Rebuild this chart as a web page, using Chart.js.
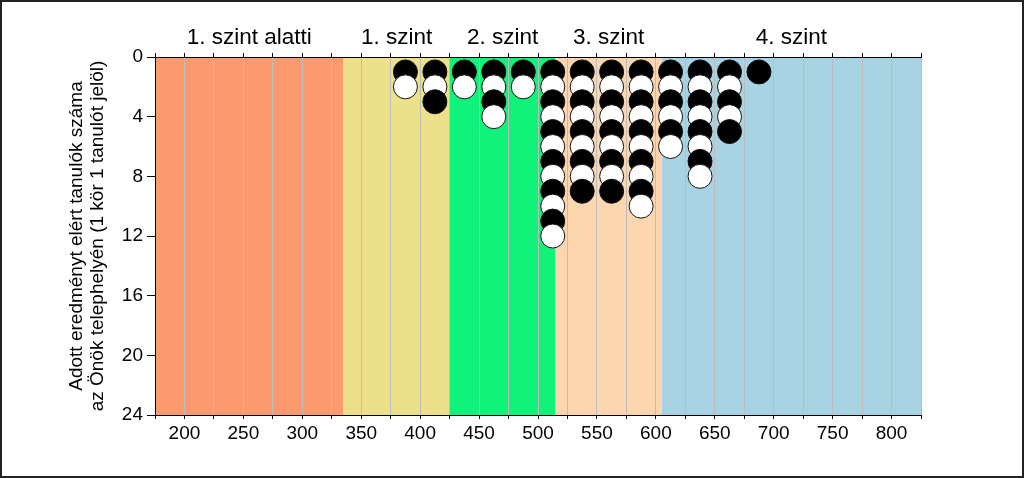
<!DOCTYPE html>
<html>
<head>
<meta charset="utf-8">
<script src="https://cdn.jsdelivr.net/npm/chart.js@4"></script>
<style>
  html, body { margin: 0; padding: 0; background: #fff; }
  canvas { display: block; }
</style>
</head>
<body>
<canvas id="myChart" width="1024" height="478"></canvas>
<script>
// score bins (column centres) and how many students fall in each
const scoreBins = [387.5, 412.5, 437.5, 462.5, 487.5, 512.5, 537.5, 562.5, 587.5, 612.5, 637.5, 662.5, 687.5];
const studentCounts = [2, 3, 2, 4, 2, 12, 9, 9, 10, 6, 8, 5, 1];

// proficiency levels
const levelNames = ["1. szint alatti", "1. szint", "2. szint", "3. szint", "4. szint"];
const levelBounds = [175, 335, 425, 515, 605, 825];
const levelColors = ["#fb9a6e", "#ece18a", "#10f27a", "#fdd6b0", "#a8d3e3"];

const xMin = 175, xMax = 825;
const yMax = 24;
const yTitle = ["Adott eredményt elért tanulók száma", "az Önök telephelyén (1 kör 1 tanulót jelöl)"];

const FONT = "'Liberation Sans', Arial, sans-serif";

// one point per student, stacked down each column
const points = [];
const fills = [];
scoreBins.forEach((x, i) => {
  for (let k = 1; k <= studentCounts[i]; k++) {
    points.push({ x: x, y: k });
    fills.push(k % 2 === 1 ? "#000000" : "#ffffff");
  }
});

const bandsPlugin = {
  id: "bands",
  beforeDraw(chart) {
    const { ctx, chartArea } = chart;
    const xs = chart.scales.x;
    ctx.save();
    ctx.fillStyle = "#fff";
    ctx.fillRect(0, 0, chart.width, chart.height);
    for (let i = 0; i < levelNames.length; i++) {
      const x0 = xs.getPixelForValue(levelBounds[i]);
      const x1 = xs.getPixelForValue(levelBounds[i + 1]);
      ctx.fillStyle = levelColors[i];
      ctx.fillRect(x0, chartArea.top, x1 - x0, chartArea.bottom - chartArea.top);
    }
    ctx.restore();
  },
  afterDraw(chart) {
    const { ctx, chartArea } = chart;
    const xs = chart.scales.x;
    ctx.save();
    // level names above the plot
    ctx.fillStyle = "#000";
    ctx.font = "22.5px " + FONT;
    ctx.textAlign = "center";
    ctx.textBaseline = "middle";
    for (let i = 0; i < levelNames.length; i++) {
      const cx = xs.getPixelForValue((levelBounds[i] + levelBounds[i + 1]) / 2);
      ctx.fillText(levelNames[i], cx, 38);
    }
    // y axis title, two lines
    ctx.font = "19px " + FONT;
    const cy = (chartArea.top + chartArea.bottom) / 2;
    ctx.translate(77, cy);
    ctx.rotate(-Math.PI / 2);
    ctx.fillText(yTitle[0], 0, 0);
    ctx.fillText(yTitle[1], 0, 21);
    ctx.restore();
    // outer frame
    ctx.save();
    ctx.strokeStyle = "#222";
    ctx.lineWidth = 2;
    ctx.strokeRect(1, 1, chart.width - 2, chart.height - 2);
    ctx.restore();
  }
};

const ctx = document.getElementById("myChart").getContext("2d");
const myChart = new Chart(ctx, {
  type: "scatter",
  data: {
    datasets: [{
      data: points,
      pointRadius: 12,
      pointHoverRadius: 12,
      pointBackgroundColor: fills,
      pointBorderColor: "#111",
      pointBorderWidth: 1,
      clip: false
    }]
  },
  options: {
    responsive: false,
    animation: false,
    events: [],
    layout: { padding: { top: 0, right: 103, left: 0, bottom: 0 } },
    plugins: {
      legend: { display: false },
      tooltip: { enabled: false }
    },
    scales: {
      x: {
        type: "linear",
        position: "bottom",
        min: xMin,
        max: xMax,
        afterFit(scale) { scale.height = 63; },
        ticks: {
          stepSize: 25,
          autoSkip: false,
          maxRotation: 0,
          padding: 3,
          color: "#000",
          font: { family: FONT, size: 19 },
          callback: v => (v % 50 === 0 ? v : "")
        },
        grid: {
          color: "#bdbdbd",
          lineWidth: 1,
          tickColor: "#000",
          tickLength: 4
        },
        border: { display: true, color: "#000", width: 1 }
      },
      xTop: {
        type: "linear",
        position: "top",
        min: xMin,
        max: xMax,
        afterFit(scale) { scale.height = 57; },
        ticks: { stepSize: 25, display: false },
        grid: {
          drawOnChartArea: false,
          tickColor: "#000",
          tickLength: 4
        },
        border: { display: true, color: "#000", width: 1 }
      },
      y: {
        type: "linear",
        reverse: true,
        min: 0,
        max: yMax,
        afterFit(scale) { scale.width = 155; },
        ticks: {
          stepSize: 4,
          padding: 4,
          color: "#000",
          font: { family: FONT, size: 19 }
        },
        grid: {
          drawOnChartArea: false,
          tickColor: "#000",
          tickLength: 8
        },
        border: { display: true, color: "#000", width: 1 }
      }
    }
  },
  plugins: [bandsPlugin]
});
</script>
</body>
</html>
